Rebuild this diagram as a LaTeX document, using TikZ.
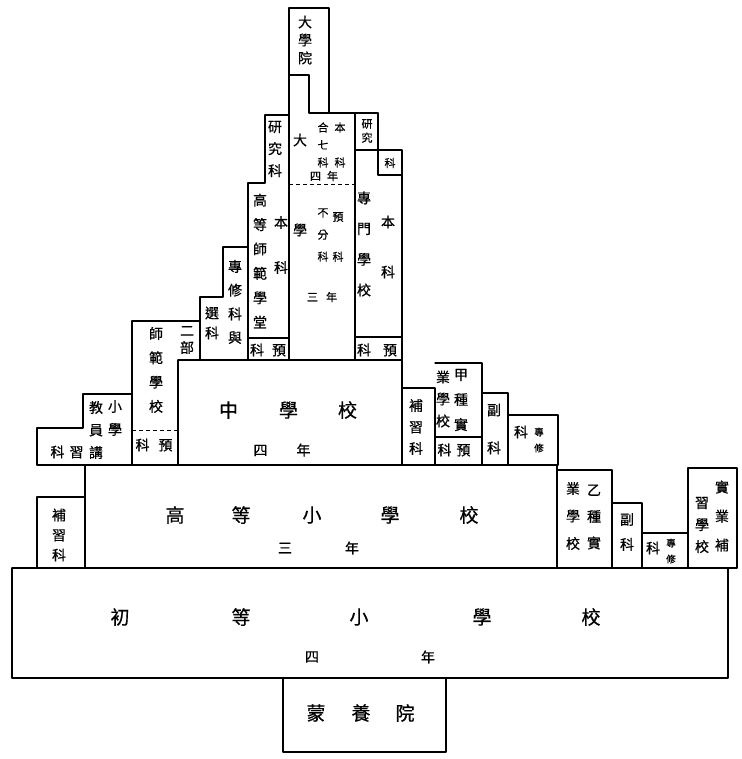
\documentclass[tikz,border=0pt]{standalone}
\usepackage{fontspec}
\newfontfamily\cjk[FakeBold=0.6]{Noto Sans CJK TC}
\begin{document}
\begin{tikzpicture}[x=1pt,y=-1pt,
  outl/.style={draw=black, line width=1.3pt, line join=round, line cap=round},
  dsh/.style={draw=black, line width=0.9pt, dash pattern=on 4pt off 3pt},
  big/.style={inner sep=0pt, font=\cjk\fontsize{19}{19}\selectfont},
  mid/.style={inner sep=0pt, font=\cjk\fontsize{14}{14}\selectfont},
  colm/.style={inner sep=0pt, align=center, font=\cjk\fontsize{14}{#1}\selectfont},
  colm/.default=16,
  cols/.style={inner sep=0pt, align=center, font=\cjk\fontsize{11}{#1}\selectfont},
  cols/.default=12,
  tiny/.style={inner sep=0pt, font=\cjk\fontsize{9.5}{9.5}\selectfont}]
\useasboundingbox (0,0) rectangle (741,759);

% ---------- outlines ----------
% 大學院
\draw[outl] (289,75) -- (289,8) -- (329,8) -- (329,113);
\draw[outl] (289,75) -- (309,75) -- (309,113) -- (378,113);
% 大學 column
\draw[outl] (289,75) -- (289,360);
\draw[outl] (355,113) -- (355,360);
\draw[dsh] (289,184) -- (355,184);
% right 研究 / 科
\draw[outl] (378,113) -- (378,175) -- (402,175);
\draw[outl] (355,150) -- (402,150) -- (402,465);
\draw[outl] (355,337) -- (402,337);
% left 研究科 and 高等師範學堂
\draw[outl] (289,115) -- (265,115) -- (265,183) -- (248,183) -- (248,360);
\draw[outl] (248,338) -- (289,338);
% 專修科與選科
\draw[outl] (248,247) -- (223,247) -- (223,297) -- (200,297) -- (200,360);
% 師範學校
\draw[outl] (200,321) -- (132,321) -- (132,465);
\draw[outl] (178,360) -- (178,465);
\draw[dsh] (132,430) -- (178,430);
% 中學校 top
\draw[outl] (178,360) -- (402,360);
% 小學教員講習科
\draw[outl] (132,394) -- (83,394) -- (83,428) -- (37,428) -- (37,465);
% right of 中學校
\draw[outl] (402,388) -- (435,388) -- (435,465);
\draw[outl] (435,363) -- (482,363) -- (482,465);
\draw[outl] (435,437) -- (482,437);
\draw[outl] (482,393) -- (508,393) -- (508,465);
\draw[outl] (508,415) -- (558,415) -- (558,465);
% line under middle row
\draw[outl] (37,465) -- (558,465);
% 高等小學校 row
\draw[outl] (85,465) -- (85,568);
\draw[outl] (557,465) -- (557,568);
\draw[outl] (85,497) -- (37,497) -- (37,568);
\draw[outl] (557,470) -- (612,470) -- (612,568);
\draw[outl] (612,503) -- (642,503) -- (642,568);
\draw[outl] (642,533) -- (688,533);
\draw[outl] (688,568) -- (688,468) -- (737,468) -- (737,568);
% 初等小學校
\draw[outl] (12,568) -- (737,568);
\draw[outl] (12,568) -- (12,678) -- (728,678) -- (728,568);
% 蒙養院
\draw[outl] (283,678) -- (283,752) -- (446,752) -- (446,678);

% ---------- texts ----------
\node[colm=18] (dxy) at (305,40) {大\\學\\院};
\node[colm=22] (yjkL) at (275,149) {研\\究\\科};
\node[cols=14] (yjR) at (367,131) {研\\究};
\node[cols] (kR) at (390,163) {科};
% 大學
\node[colm] (da) at (300,140) {大};
\node[colm] (xue) at (300,230) {學};
\node[cols=35] (bk1) at (340,145) {本\\科};
\node[cols=17.5] (hqk) at (323,145) {合\\七\\科};
\node[cols] (sn4) at (324,176) {四\hspace{6pt}年};
\node[cols=40] (yk1) at (338,237) {預\\科};
\node[cols=22] (bfk) at (323,235) {不\\分\\科};
\node[cols] (sn3) at (322,297) {三\hspace{8pt}年};
% 專門學校
\node[colm=30.7] (zmxx) at (364,244) {專\\門\\學\\校};
\node[colm=50] (bk2) at (388,247) {本\\科};
\node[colm] (yk2) at (377,350) {科\hspace{12pt}預};
% 高等師範學堂
\node[colm=24.4] (gdsf) at (260,261) {高\\等\\師\\範\\學\\堂};
\node[colm=45] (bk3) at (281,245) {本\\科};
\node[colm] (yk3) at (268,350) {科\hspace{8pt}預};
% 專修科與選科
\node[colm=23.7] (zxky) at (235,302) {專\\修\\科\\與};
\node[colm=20] (xk) at (212,323) {選\\科};
% 師範學校
\node[colm=24.3] (sfxx) at (156,370) {師\\範\\學\\校};
\node[colm=17] (eb) at (187,340) {二\\部};
\node[colm] (yk4) at (154,445) {科\hspace{9pt}預};
% 小學教員講習科
\node[colm=23] (xx1) at (115,418) {小\\學};
\node[colm=22.5] (jyj) at (96,430) {教\\員\\講};
\node[colm] (kx) at (67,452) {科\hspace{5pt}習};
% 中學校
\node[big] (zxx) at (288,410) {中\hspace{41pt}學\hspace{40pt}校};
\node[mid] (zx4) at (282,450) {四\hspace{29pt}年};
% 補習科 (middle)
\node[colm=21.5] (bxk1) at (416,427) {補\\習\\科};
% 甲種實業學校
\node[colm=25] (jzs) at (461,400) {甲\\種\\實};
\node[colm=22] (yxx1) at (443,399) {業\\學\\校};
\node[colm] (yk6) at (454,450) {科\hspace{5pt}預};
% 副科
\node[colm=38] (fk1) at (494,429) {副\\科};
% 專修科
\node[colm] (k7) at (521,432) {科};
\node[tiny] (zx7a) at (539,432) {專};
\node[tiny] (zx7b) at (539,448) {修};
% 高等小學校
\node[big] (gd1) at (175,515) {高};
\node[big] (gd2) at (241,515) {等};
\node[big] (gd3) at (312,515) {小};
\node[big] (gd4) at (390,515) {學};
\node[big] (gd5) at (469,515) {校};
\node[mid] (gd6) at (285,548) {三};
\node[mid] (gd7) at (352,548) {年};
% 補習科 (left)
\node[colm=20] (bxk2) at (59,535) {補\\習\\科};
% 乙種實業學校
\node[colm=26.5] (yzs) at (594,517) {乙\\種\\實};
\node[colm=27.5] (yxx2) at (573,516) {業\\學\\校};
% 副科
\node[colm=25] (fk2) at (627,532) {副\\科};
% 專修科
\node[colm] (k8) at (653,548) {科};
\node[tiny] (zx8a) at (671,543) {專};
\node[tiny] (zx8b) at (671,559) {修};
% 實業補習學校
\node[colm=29] (sybx) at (722,516) {實\\業\\補};
\node[colm=22] (xxx2) at (702,525) {習\\學\\校};
% 初等小學校
\node[big] (cd1) at (120,617) {初};
\node[big] (cd2) at (241,617) {等};
\node[big] (cd3) at (359,617) {小};
\node[big] (cd4) at (482,617) {學};
\node[big] (cd5) at (591,617) {校};
\node[mid] (cd6) at (312,657) {四};
\node[mid] (cd7) at (428,657) {年};
% 蒙養院
\node[big] (my1) at (316,713) {蒙};
\node[big] (my2) at (361,713) {養};
\node[big] (my3) at (405,713) {院};
\end{tikzpicture}
\end{document}
